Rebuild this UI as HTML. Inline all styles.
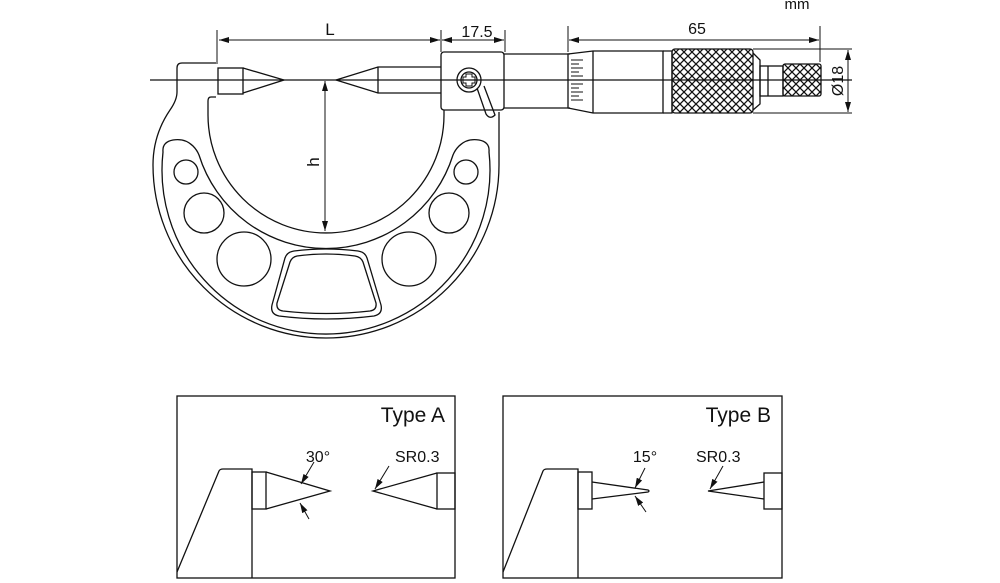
<!DOCTYPE html>
<html><head><style>body{margin:0;background:#fff}svg{display:block}text{font-family:"Liberation Sans",sans-serif;fill:#111}</style></head><body>
<svg width="1000" height="583" viewBox="0 0 1000 583" xmlns="http://www.w3.org/2000/svg">
<defs>
<marker id="a" viewBox="0 0 10 6" refX="10" refY="3" markerWidth="10" markerHeight="6" orient="auto-start-reverse" markerUnits="userSpaceOnUse"><path d="M0,0L10,3L0,6z" fill="#111"/></marker>
<pattern id="k" width="8" height="8" patternUnits="userSpaceOnUse"><path d="M0,0L8,8M8,0L0,8" stroke="#111" stroke-width="1.3"/></pattern>
</defs>
<g fill="none" stroke="#111" stroke-width="1.3">
<!-- frame -->
<path d="M216,63 H182 Q177,63 177,68 V92 Q177,100 170,110 Q153,135 153,165 A173,173 0 0 0 499,165 V112"/>
<path d="M216,97 H211 Q208,97 208,101 V115 A118,118 0 0 0 444,115 V110"/>
<path d="M163,152 Q162,142 173,140 Q185,138 193,146 Q197,150 199,155 A133,133 0 0 0 453,155 Q455,150 459,146 Q467,138 479,140 Q490,142 489,152 A164,164 0 1 1 163,152 Z"/>
<circle cx="186" cy="172" r="12"/><circle cx="466" cy="172" r="12"/>
<circle cx="204" cy="213" r="20"/><circle cx="449" cy="213" r="20"/>
<circle cx="244" cy="259" r="27"/><circle cx="409" cy="259" r="27"/>
<path d="M294,251 Q326,247 358,251 Q365,252 367,258 L381,305 Q383,314 374,316 Q326,322 279,316 Q270,314 272,305 L285,258 Q287,252 294,251Z"/>
<path d="M297,256 Q326,252 355,256 Q361,257 363,262 L376,303 Q377,310 370,311 Q326,316 283,311 Q276,310 277,303 L290,262 Q292,257 297,256Z"/>
<!-- anvil -->
<rect x="218" y="68" width="25" height="26"/>
<path d="M243,68 L284,80 L243,93"/>
<!-- spindle -->
<path d="M441,67 H378 L336,80 L378,93 H441 M378,67 V93"/>
<rect x="441" y="52" width="63" height="58" rx="3"/>
<path d="M477,88 L486,114 Q490,120 495,115 L484,86"/>
<circle cx="469" cy="80" r="12" fill="#fff"/><circle cx="469" cy="80" r="8"/>
<path d="M466,74h6v3h3v6h-3v3h-6v-3h-3v-6h3z" stroke-width="1"/>
<!-- sleeve/thimble -->
<path d="M504,54 H570 M504,108 H570"/>
<path d="M568,54 L593,51 H663 V113 H593 L568,108 Z"/>
<path d="M593,51 V113"/>
<g stroke-width="1"><path d="M571,60h12M571,64h8M571,68h12M571,72h8M571,76h12M571,80h8M571,84h12M571,88h8M571,92h12M571,96h8M571,100h12"/></g>
<path d="M663,51 H672 V113 H663"/>
<rect x="672" y="49" width="81" height="64" rx="3" fill="url(#k)"/>
<path d="M753,53 L760,60 V104 L753,110"/>
<rect x="760" y="66" width="23" height="30"/><path d="M768,66V96"/>
<rect x="783" y="64" width="38" height="32" rx="2" fill="url(#k)"/>
<!-- centerline -->
<path d="M150,80 H852"/>
<!-- dims -->
<g stroke-width="1">
<path d="M217,30V64 M441,30V52 M505,30V52 M568,26V52 M820,26V62"/>
<path d="M219,40H440" marker-start="url(#a)" marker-end="url(#a)"/>
<path d="M442,40H504" marker-start="url(#a)" marker-end="url(#a)"/>
<path d="M569,40H819" marker-start="url(#a)" marker-end="url(#a)"/>
<path d="M753,49H852 M753,113H852"/>
<path d="M848,50V112" marker-start="url(#a)" marker-end="url(#a)"/>
<path d="M325,81V231" marker-start="url(#a)" marker-end="url(#a)"/>
</g>
<!-- boxes -->
<rect x="177" y="396" width="278" height="182"/>
<rect x="503" y="396" width="279" height="182"/>
<path d="M177,572 L219,471 Q220,469 223,469 H252 V578"/>
<rect x="252" y="472" width="14" height="37"/>
<path d="M266,472 L330,491 L266,509"/>
<rect x="437" y="473" width="18" height="36"/>
<path d="M437,473 L373,491 L437,509"/>
<path d="M503,572 L543,471 Q544,469 547,469 H578 V578"/>
<rect x="578" y="472" width="14" height="37"/>
<path d="M592,482 L648,490 Q650,491 648,492 L592,499"/>
<rect x="764" y="473" width="18" height="36"/>
<path d="M764,482 L708,491 L764,499"/>
<g stroke-width="1">
<path d="M314,462 L301,484" marker-end="url(#a)"/>
<path d="M309,519 L300,503" marker-end="url(#a)"/>
<path d="M389,466 L375,489" marker-end="url(#a)"/>
<path d="M645,468 L635,488" marker-end="url(#a)"/>
<path d="M646,512 L635,496" marker-end="url(#a)"/>
<path d="M723,466 L710,489" marker-end="url(#a)"/>
</g>
</g>
<text x="330" y="35" font-size="17" text-anchor="middle">L</text>
<text x="477" y="37" font-size="16" text-anchor="middle">17.5</text>
<text x="697" y="34" font-size="16" text-anchor="middle">65</text>
<text x="797" y="9" font-size="15" text-anchor="middle">mm</text>
<text transform="translate(843,81) rotate(-90)" font-size="16" text-anchor="middle">Ø18</text>
<text transform="translate(319,162) rotate(-90)" font-size="17" text-anchor="middle">h</text>
<text x="445" y="422" font-size="21" text-anchor="end">Type A</text>
<text x="771" y="422" font-size="21" text-anchor="end">Type B</text>
<text x="318" y="462" font-size="16" text-anchor="middle">30°</text>
<text x="395" y="462" font-size="16">SR0.3</text>
<text x="645" y="462" font-size="16" text-anchor="middle">15°</text>
<text x="696" y="462" font-size="16">SR0.3</text>
</svg>
</body></html>
